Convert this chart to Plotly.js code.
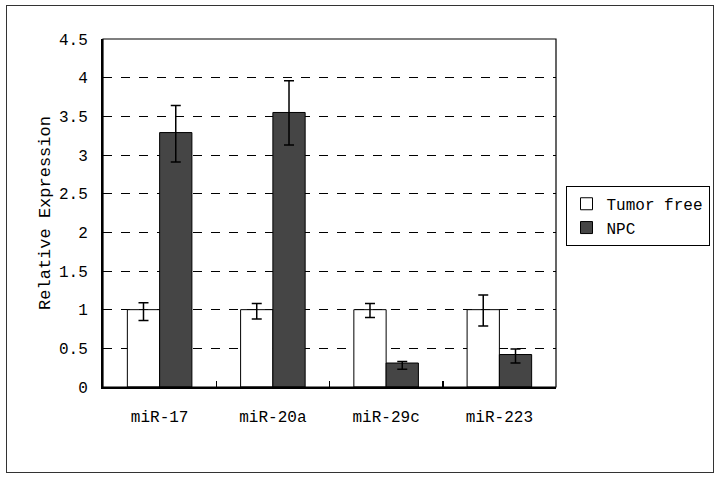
<!DOCTYPE html>
<html>
<head>
<meta charset="utf-8">
<script src="https://cdn.plot.ly/plotly-3.0.1.min.js"></script>
<style>
  body { margin: 0; background: #fff; }
  #gd { width: 720px; height: 479px; position: relative; }
  #frame { position: absolute; left: 6px; top: 5px; width: 706px; height: 466px;
           border: 1px solid #333; pointer-events: none; }
</style>
</head>
<body>
<div id="gd"></div>
<div id="frame"></div>
<script>
"use strict";

/* data */
var categories = ["miR-17", "miR-20a", "miR-29c", "miR-223"];
var tumorFree = [1.0, 1.0, 1.0, 1.0];
var tumorFreeUp = [0.09, 0.08, 0.08, 0.19];
var tumorFreeDown = [0.14, 0.12, 0.10, 0.21];
var npc = [3.29, 3.55, 0.31, 0.42];
var npcUp = [0.35, 0.41, 0.02, 0.07];
var npcDown = [0.38, 0.42, 0.08, 0.11];

var font_family = '"Liberation Mono", "DejaVu Sans Mono", monospace';

function main()
{
	var gd = document.getElementById("gd");

	var errStyle = {color: "#000", thickness: 1.5, width: 5};

	var tfData = {
		x: categories,
		y: tumorFree,
		type: "bar",
		name: "Tumor free",
		marker: {color: "#ffffff", line: {color: "#000", width: 1}},
		error_y: Object.assign({type: "data", symmetric: false,
			array: tumorFreeUp, arrayminus: tumorFreeDown}, errStyle)
	};

	var npcData = {
		x: categories,
		y: npc,
		type: "bar",
		name: "NPC",
		marker: {color: "#454545", line: {color: "#000", width: 1}},
		error_y: Object.assign({type: "data", symmetric: false,
			array: npcUp, arrayminus: npcDown}, errStyle)
	};

	var layout = {
		width: 720,
		height: 479,
		margin: {l: 103, r: 164, t: 39, b: 92, pad: 0, autoexpand: false},
		paper_bgcolor: "#fff",
		plot_bgcolor: "#fff",
		font: {family: font_family, size: 16, color: "#000"},
		barmode: "group",
		bargap: 0.43,
		bargroupgap: 0,
		showlegend: true,
		legend: {
			x: 1.021, y: 0.578, xanchor: "left", yanchor: "top",
			bordercolor: "#000", borderwidth: 1,
			font: {family: font_family, size: 16, color: "#000"}
		},
		xaxis: {
			type: "category",
			showline: true,
			linecolor: "#000",
			linewidth: 2,
			ticks: "inside",
			tickson: "boundaries",
			ticklen: 6,
			tickcolor: "#000",
			tickwidth: 1.5,
			ticklabelstandoff: 14,
			showgrid: false,
			fixedrange: true
		},
		yaxis: {
			range: [0, 4.5],
			dtick: 0.5,
			showline: true,
			linecolor: "#000",
			linewidth: 2,
			ticks: "",
			ticklabelstandoff: 10,
			showgrid: true,
			gridcolor: "#000",
			gridwidth: 1,
			griddash: "dash",
			zeroline: false,
			title: {text: "Relative Expression", standoff: 4,
				font: {family: font_family, size: 17, color: "#000"}},
			fixedrange: true
		},
		shapes: [{
			type: "rect", xref: "paper", yref: "paper",
			x0: 0, x1: 1, y0: 0, y1: 1,
			line: {color: "#000", width: 1.2}
		}]
	};

	Plotly.newPlot(gd, [tfData, npcData], layout, {displayModeBar: false, staticPlot: true});
}

main();
</script>
</body>
</html>
